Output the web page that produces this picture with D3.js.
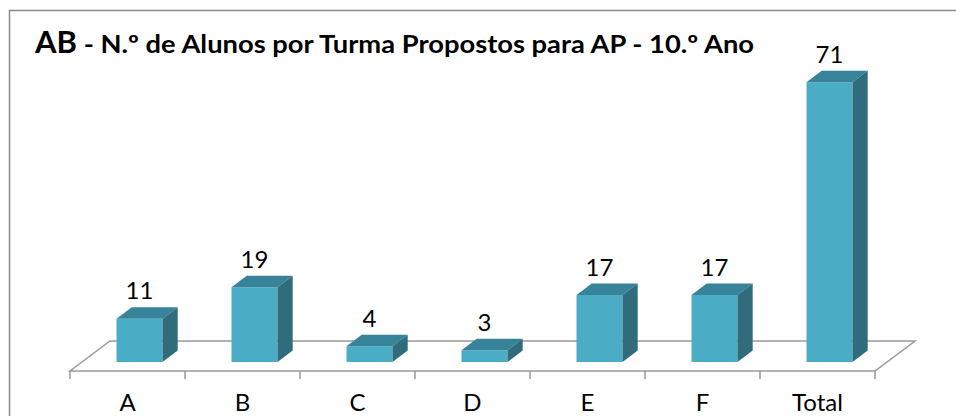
<!DOCTYPE html>
<html>
<head>
<meta charset="utf-8">
<script src="https://cdn.jsdelivr.net/npm/d3@7"></script>
<style>
  html, body { margin: 0; padding: 0; background: #fff; }
  svg { display: block; font-family: Lato, "Open Sans", sans-serif; }
</style>
</head>
<body>
<script>
// data
const categories = ["A", "B", "C", "D", "E", "F", "Total"];
const values = [11, 19, 4, 3, 17, 17, 71];
const titleBig = "AB";
const titleRest = " - N.º de Alunos por Turma Propostos para AP - 10.º Ano";

const width = 956,
      height = 416;

// floor depth vector (3d look) and bar placement inside the floor
const dx = 40, dy = -30;
const z0 = 0.3, z1 = 0.68;

const svg = d3.select("body")
              .append("svg")
              .attr("width", width)
              .attr("height", height);

const x = d3.scaleBand()
            .domain(categories)
            .range([70, 875]);

const y = d3.scaleLinear()
            .domain([0, 80])
            .range([371, 371 - 80 * 3.94]);

function proj(px, v, z) {
    return [px + z * dx, y(v) + z * dy];
}

// chart border
svg.append("rect")
   .attr("x", 9.5)
   .attr("y", 10.5)
   .attr("width", width + 10)
   .attr("height", height + 10)
   .attr("fill", "none")
   .attr("stroke", "#8a8a8a")
   .attr("stroke-width", 1.5);

// title
svg.append("text")
   .attr("x", 35)
   .attr("y", 53)
   .attr("font-weight", "bold")
   .attr("font-size", 31)
   .text(titleBig);
svg.append("text")
   .attr("x", 77)
   .attr("y", 53)
   .attr("font-weight", "bold")
   .attr("font-size", 25)
   .attr("textLength", 677)
   .attr("lengthAdjust", "spacingAndGlyphs")
   .style("white-space", "pre")
   .text(titleRest);

// floor
const x0 = x.range()[0], x1 = x.range()[1];
const floor = [proj(x0, 0, 0), proj(x1, 0, 0), proj(x1, 0, 1), proj(x0, 0, 1)];
svg.append("path")
   .attr("d", d3.line()(floor) + "Z")
   .attr("fill", "none")
   .attr("stroke", "#9a9a9a")
   .attr("stroke-width", 1.5);

// ticks at band edges
const edges = categories.map(c => x(c)).concat([x1]);
svg.append("g")
   .selectAll("line")
   .data(edges)
   .enter()
   .append("line")
   .attr("x1", d => d)
   .attr("x2", d => d)
   .attr("y1", y(0))
   .attr("y2", y(0) + 8)
   .attr("stroke", "#9a9a9a")
   .attr("stroke-width", 1.5);

// category labels
svg.append("g")
   .selectAll("text")
   .data(categories)
   .enter()
   .append("text")
   .attr("x", d => x(d) + x.bandwidth() / 2)
   .attr("y", 411)
   .attr("text-anchor", "middle")
   .attr("font-size", 24)
   .attr("fill", "#000")
   .text(d => d);

// bars
const bars = svg.append("g")
                .selectAll("g")
                .data(categories.map((c, i) => ({cat: c, v: values[i]})))
                .enter()
                .append("g");

function bx0(d) { return x(d.cat) + x.bandwidth() * 0.3; }
function bx1(d) { return x(d.cat) + x.bandwidth() * 0.7; }

bars.append("path")
    .attr("fill", "#4bacc6")
    .attr("d", d => d3.line()([proj(bx0(d), 0, z0), proj(bx1(d), 0, z0),
                               proj(bx1(d), d.v, z0), proj(bx0(d), d.v, z0)]) + "Z");

bars.append("path")
    .attr("fill", "#37849a")
    .attr("d", d => d3.line()([proj(bx0(d), d.v, z0), proj(bx1(d), d.v, z0),
                               proj(bx1(d), d.v, z1), proj(bx0(d), d.v, z1)]) + "Z");

bars.append("path")
    .attr("fill", "#306c7b")
    .attr("d", d => d3.line()([proj(bx1(d), 0, z0), proj(bx1(d), 0, z1),
                               proj(bx1(d), d.v, z1), proj(bx1(d), d.v, z0)]) + "Z");

// value labels
bars.append("text")
    .attr("x", d => proj((bx0(d) + bx1(d)) / 2, d.v, z0)[0])
    .attr("y", d => proj(0, d.v, z1)[1] - 8)
    .attr("text-anchor", "middle")
    .attr("font-size", 24)
    .attr("fill", "#000")
    .text(d => d.v);
</script>
</body>
</html>
